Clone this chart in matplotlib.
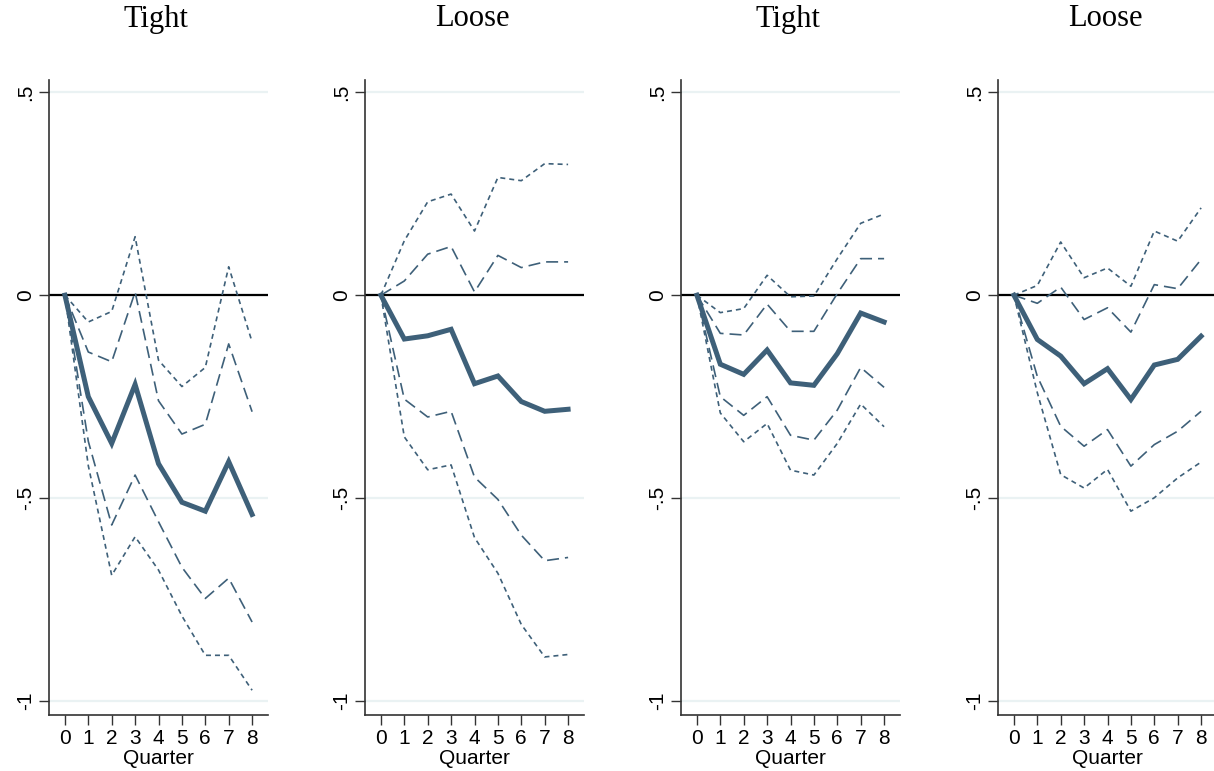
# librerías
import matplotlib.pyplot as plt

# datos: trimestres y respuestas por panel
trimestres = [0, 1, 2, 3, 4, 5, 6, 7, 8]
titulos = ["Tight", "Loose", "Tight", "Loose"]

# panel 1
centro_1 = [0, -0.25, -0.365, -0.22, -0.415, -0.51, -0.532, -0.41, -0.54]
sup90_1 = [0, -0.066, -0.04, 0.144, -0.16, -0.225, -0.178, 0.07, -0.115]
sup68_1 = [0, -0.14, -0.164, 0.008, -0.26, -0.342, -0.318, -0.12, -0.287]
inf68_1 = [0, -0.36, -0.566, -0.443, -0.558, -0.67, -0.747, -0.697, -0.805]
inf90_1 = [0, -0.42, -0.69, -0.595, -0.677, -0.79, -0.887, -0.887, -0.973]

# panel 2
centro_2 = [0, -0.108, -0.1, -0.084, -0.218, -0.199, -0.262, -0.286, -0.281]
sup90_2 = [0, 0.134, 0.23, 0.249, 0.158, 0.29, 0.282, 0.324, 0.322]
sup68_2 = [0, 0.035, 0.101, 0.12, 0.008, 0.098, 0.068, 0.082, 0.082]
inf68_2 = [0, -0.256, -0.3, -0.286, -0.448, -0.503, -0.591, -0.654, -0.646]
inf90_2 = [0, -0.349, -0.43, -0.418, -0.597, -0.685, -0.811, -0.891, -0.885]

# panel 3
centro_3 = [0, -0.17, -0.195, -0.135, -0.216, -0.222, -0.144, -0.044, -0.066]
sup90_3 = [0, -0.043, -0.033, 0.049, -0.004, -0.002, 0.09, 0.177, 0.2]
sup68_3 = [0, -0.094, -0.098, -0.022, -0.089, -0.089, 0.004, 0.09, 0.09]
inf68_3 = [0, -0.25, -0.296, -0.25, -0.345, -0.357, -0.283, -0.178, -0.227]
inf90_3 = [0, -0.29, -0.361, -0.316, -0.431, -0.443, -0.365, -0.268, -0.324]

# panel 4
centro_4 = [0, -0.109, -0.15, -0.218, -0.181, -0.257, -0.172, -0.158, -0.101]
sup90_4 = [0, 0.024, 0.131, 0.043, 0.067, 0.022, 0.158, 0.133, 0.215]
sup68_4 = [0, -0.02, 0.02, -0.06, -0.031, -0.091, 0.026, 0.016, 0.088]
inf68_4 = [0, -0.2, -0.323, -0.372, -0.331, -0.421, -0.368, -0.335, -0.286]
inf90_4 = [0, -0.24, -0.442, -0.475, -0.429, -0.532, -0.499, -0.45, -0.411]

paneles = [
    (centro_1, sup90_1, sup68_1, inf68_1, inf90_1),
    (centro_2, sup90_2, sup68_2, inf68_2, inf90_2),
    (centro_3, sup90_3, sup68_3, inf68_3, inf90_3),
    (centro_4, sup90_4, sup68_4, inf68_4, inf90_4),
]

color = "#3e6079"
fuente_sans = "Liberation Sans"
fuente_serif = "Liberation Serif"

fig = plt.figure(figsize=(12.14, 7.71), dpi=100)
W, H = 1214, 771
izquierdas = [49, 365, 681, 998]

for i, (centro, sup90, sup68, inf68, inf90) in enumerate(paneles):
    ax = fig.add_axes([izquierdas[i] / W, 56 / H, 219 / W, 635 / H])

    # líneas de cuadrícula
    for yv in [0.5, 0, -0.5, -1]:
        ax.axhline(yv, color="#eaf2f3", lw=1.6, zorder=0)
    ax.axhline(0, color="black", lw=1.6, zorder=1)

    ax.plot(trimestres, sup90, color=color, lw=1.2, ls=(0, (3, 2.4)), zorder=2)
    ax.plot(trimestres, inf90, color=color, lw=1.2, ls=(0, (3, 2.4)), zorder=2)
    ax.plot(trimestres, sup68, color=color, lw=1.2, ls=(0, (7.2, 3.6)), zorder=2)
    ax.plot(trimestres, inf68, color=color, lw=1.2, ls=(0, (7.2, 3.6)), zorder=2)
    ax.plot(trimestres, centro, color=color, lw=3.6, solid_joinstyle="miter", zorder=3)

    ax.set_xlim(-0.68, 8.68)
    ax.set_ylim(-1.034, 0.53)
    ax.set_xticks(trimestres)
    ax.set_xticklabels([str(t) for t in trimestres], family=fuente_sans, fontsize=15)
    ax.set_yticks([-1, -0.5, 0, 0.5])
    ax.set_yticklabels(["-1", "-.5", "0", ".5"], family=fuente_sans, fontsize=15,
                       rotation=90, va="center")
    ax.tick_params(axis="both", length=7, width=1, color="#333333", pad=3)
    ax.set_xlabel("Quarter", family=fuente_sans, fontsize=15, labelpad=1)

    for lado in ["top", "right"]:
        ax.spines[lado].set_visible(False)
    for lado in ["left", "bottom"]:
        ax.spines[lado].set_color("#333333")
        ax.spines[lado].set_linewidth(1.2)

    fig.text((izquierdas[i] + 107) / W, 1 - 19 / H, titulos[i], family=fuente_serif,
             fontsize=22, ha="center", va="center")

fig.savefig("out.png", dpi=100)
